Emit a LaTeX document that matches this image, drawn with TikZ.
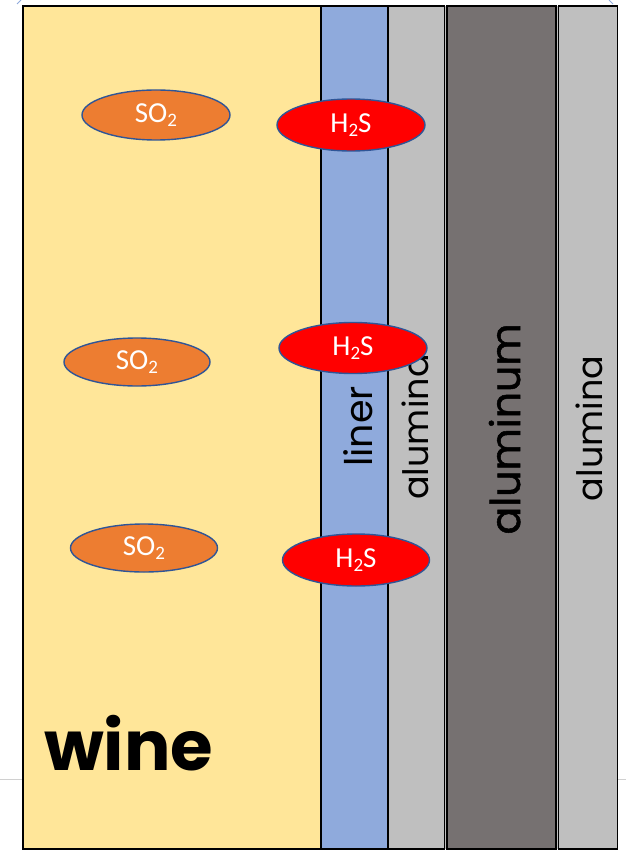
\documentclass[tikz,border=0pt]{standalone}
\usepackage{fontspec}
\setmainfont{Poppins}
\newfontfamily\calib{Carlito}
\newfontfamily\popheavy[FakeBold=1.3]{Poppins}
\usetikzlibrary{shapes.geometric}
\definecolor{wineyellow}{HTML}{FFE699}
\definecolor{linerblue}{HTML}{8FAADC}
\definecolor{oxidegray}{HTML}{BFBFBF}
\definecolor{metalgray}{HTML}{767171}
\definecolor{so2orange}{HTML}{ED7D31}
\definecolor{rimblue}{HTML}{2F5597}
\definecolor{guidegray}{HTML}{D0D0D0}
\definecolor{handleblue}{HTML}{8FAADC}
\newcommand{\lowsub}[1]{\raisebox{-0.32ex}{\fontsize{19}{19}\selectfont #1}}
\tikzset{
  layer/.style={draw=black, line width=1.3pt},
  molecule/.style={ellipse, draw=rimblue, line width=1.4pt, inner sep=0pt,
    text=white, font=\calib\fontsize{29}{29}\selectfont},
  so2/.style={molecule, fill=so2orange},
  h2s/.style={molecule, fill=red},
  sidelabel/.style={rotate=90, anchor=base, inner sep=0pt, text=black},
}
\begin{document}
\begin{tikzpicture}[x=1pt, y=-1pt]
  \useasboundingbox (0,0) rectangle (626,850);
  % faint guide line behind the layers
  \draw[guidegray, line width=1pt] (0,779) -- (626,779);
  % small corner handles
  \draw[handleblue, line width=0.8pt] (17,4) -- (21,0);
  \draw[handleblue, line width=0.8pt] (609,0) -- (613,4);

  % layers, left to right
  \fill[oxidegray] (388,6) rectangle (617.5,849);
  \draw[layer, fill=wineyellow] (23,6) rectangle (321,849);
  \draw[layer, fill=linerblue] (321,6) rectangle (388,849);
  \draw[layer, fill=oxidegray] (388,6) rectangle (444.5,849);
  \draw[layer, fill=metalgray] (447,6) rectangle (556,849);
  \draw[layer, fill=oxidegray] (558.5,6) rectangle (617.5,849);

  % layer labels
  \node[anchor=base west, inner sep=0pt, font=\bfseries\fontsize{69}{69}\selectfont] (wine) at (44,770) {wine};
  \node[sidelabel, font=\fontsize{38}{38}\selectfont] (liner) at (372,426.5) {liner};
  \node[sidelabel, font=\fontsize{35}{35}\selectfont] (alumina1) at (428,427) {alumina};
  \node[sidelabel, font=\popheavy\fontsize{41}{41}\selectfont] (aluminum) at (520,429) {aluminum};
  \node[sidelabel, font=\fontsize{35}{35}\selectfont] (alumina2) at (602,428.5) {alumina};

  % dissolved species
  \node[so2, minimum width=148pt, minimum height=50pt] (so2a) at (156,115) {SO\lowsub{2}};
  \node[so2, minimum width=146pt, minimum height=48pt] (so2b) at (137,362) {SO\lowsub{2}};
  \node[so2, minimum width=147pt, minimum height=48pt] (so2c) at (144,548) {SO\lowsub{2}};
  \node[h2s, minimum width=148pt, minimum height=52pt] (h2sa) at (351,125) {H\lowsub{2}S};
  \node[h2s, minimum width=148pt, minimum height=51pt] (h2sb) at (353,348) {H\lowsub{2}S};
  \node[h2s, minimum width=147pt, minimum height=52pt] (h2sc) at (356,560) {H\lowsub{2}S};
\end{tikzpicture}
\end{document}
